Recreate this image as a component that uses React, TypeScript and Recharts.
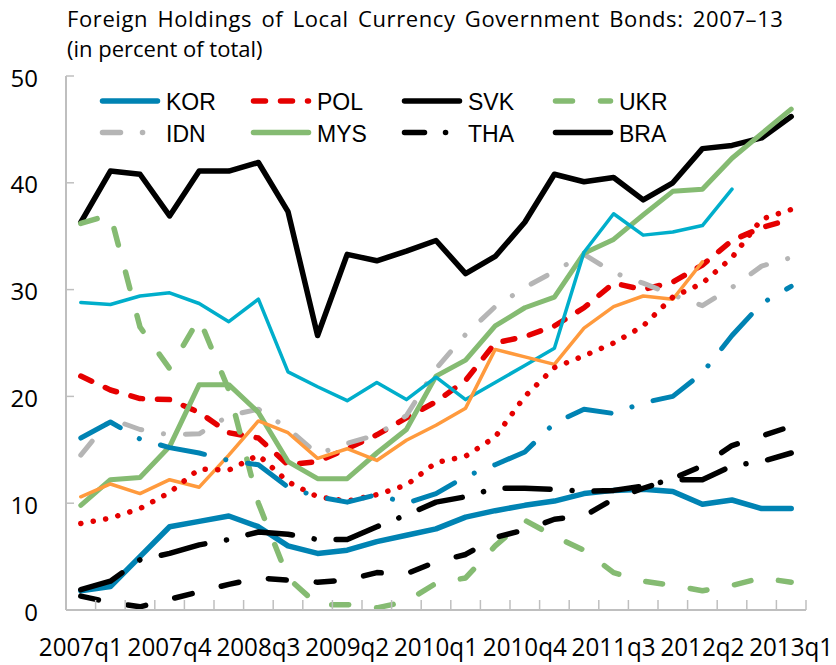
import { LineChart, Line, XAxis, YAxis, Legend } from 'recharts'

const quarters = [
  '2007q1', '2007q2', '2007q3', '2007q4', '2008q1', '2008q2', '2008q3', '2008q4',
  '2009q1', '2009q2', '2009q3', '2009q4', '2010q1', '2010q2', '2010q3', '2010q4',
  '2011q1', '2011q2', '2011q3', '2011q4', '2012q1', '2012q2', '2012q3', '2012q4', '2013q1',
]

const kor = [1.8, 2.2, 5.0, 7.8, 8.3, 8.8, 7.8, 6.0, 5.3, 5.6, 6.4, 7.0, 7.6, 8.7, 9.3, 9.8, 10.2, 10.9, 11.2, 11.3, 11.1, 9.9, 10.3, 9.5, 9.5]
const pol = [21.9, 20.6, 19.8, 19.7, 18.5, 16.6, 16.1, 13.6, 13.9, 15.1, 16.4, 18.0, 19.5, 21.5, 25.0, 25.6, 26.6, 28.3, 30.6, 30.0, 30.7, 32.3, 34.6, 35.8, 36.6]
const svk = [36.3, 41.1, 40.8, 36.9, 41.1, 41.1, 41.9, 37.3, 25.7, 33.3, 32.7, 33.6, 34.6, 31.5, 33.1, 36.3, 40.8, 40.1, 40.5, 38.4, 40.0, 43.2, 43.5, 44.2, 46.2]
const ukr = [36.2, 37.0, 26.5, 22.6, 27.3, 20.6, 10.0, 3.0, 0.5, 0.5, 0.2, 0.8, 2.5, 3.0, 6.0, 8.4, 6.9, 5.6, 3.5, 2.7, 2.3, 1.8, 2.3, 3.0, 2.6]
const idn = [14.5, 17.9, 16.9, 16.4, 16.5, 18.2, 18.8, 17.0, 14.6, 15.6, 16.4, 18.2, 22.6, 25.8, 28.4, 30.2, 31.7, 33.3, 31.6, 30.6, 29.5, 28.5, 30.2, 32.2, 33.0]
const mys = [9.8, 12.2, 12.4, 15.3, 21.1, 21.1, 18.5, 13.9, 12.3, 12.3, 14.7, 16.9, 21.9, 23.4, 26.6, 28.3, 29.3, 33.4, 34.7, 37.0, 39.2, 39.4, 42.3, 44.6, 46.9]
const tha = [1.9, 2.7, 4.7, 5.3, 6.1, 6.6, 7.3, 7.1, 6.6, 6.6, 7.8, 8.9, 10.1, 10.6, 11.4, 11.4, 11.3, 11.1, 11.2, 11.6, 12.2, 12.2, 13.5, 13.9, 14.7]
// series whose legend entries are cut off in the original
const series9 = [28.8, 28.6, 29.4, 29.7, 28.7, 27.0, 29.1, 22.3, 20.9, 19.6, 21.3, 19.7, 21.8, 19.7, 21.3, 22.9, 24.5, 33.5, 37.1, 35.1, 35.4, 36.0, 39.4]
const series10 = [10.6, 11.8, 10.9, 12.2, 11.5, 14.5, 17.7, 16.6, 14.2, 15.1, 14.0, 15.9, 17.3, 18.9, 24.4, 23.7, 23.0, 26.4, 28.4, 29.4, 29.1, 32.6]
const series11 = [8.1, 8.6, 9.5, 11.0, 13.2, 13.1, 14.5, 12.0, 10.6, 10.2, 10.8, 11.7, 13.8, 14.4, 16.2, 20.0, 22.7, 23.8, 25.0, 26.6, 29.3, 30.6, 33.0, 36.6, 37.5]
const series12 = [16.1, 17.6, 16.0, 15.2, 14.7, 14.0, 13.6, 11.5, 10.6, 10.1, 10.8, 10.0, 10.9, 12.5, 13.6, 14.8, 17.5, 18.8, 18.4, 19.4, 20.0, 22.2, 25.7, 28.7, 30.3]
const series13 = [1.3, 0.7, 0.3, 1.0, 1.7, 2.4, 3.0, 2.8, 2.6, 2.8, 3.5, 3.4, 4.5, 5.2, 6.8, 7.5, 8.5, 8.8, 10.4, 11.4, 12.3, 13.5, 15.4, 16.3, 17.2]

const yTicks = [0, 10, 20, 30, 40, 50]
const legendNames = ['KOR', 'POL', 'SVK', 'UKR', 'IDN', 'MYS', 'THA', 'BRA']

const W = 836
const H = 665
const PLOT = { left: 66, top: 76, right: 806, bottom: 610 }
const STEP = (PLOT.right - PLOT.left) / quarters.length
const AXIS_GRAY = '#BFBFBF'
const FONT = '"Open Sans", sans-serif'

const BLUE = '#0083B3'
const RED = '#E50000'
const GREEN = '#85BB72'
const GRAY = '#B5B5B5'
const CYAN = '#00AECB'
const ORANGE = '#FF9A3D'
const BLACK = '#000000'

const lines = [
  { key: 'KOR', values: kor, color: BLUE, width: 5.5 },
  { key: 'POL', values: pol, color: RED, width: 5.5, dash: '12 15' },
  { key: 'SVK', values: svk, color: BLACK, width: 5.5 },
  { key: 'UKR', values: ukr, color: GREEN, width: 5.5, dash: '17 28' },
  { key: 'IDN', values: idn, color: GRAY, width: 5, dash: '18 22 0.1 22' },
  { key: 'MYS', values: mys, color: GREEN, width: 5 },
  { key: 'THA', values: tha, color: BLACK, width: 5.5, dash: '45 22 0.1 22' },
  { key: 'series9', values: series9, color: CYAN, width: 3.5 },
  { key: 'series10', values: series10, color: ORANGE, width: 3.5 },
  { key: 'series11', values: series11, color: RED, width: 5.5, dash: '0.1 12.5' },
  { key: 'series12', values: series12, color: BLUE, width: 5, dash: '45 22 0.1 22' },
  { key: 'series13', values: series13, color: BLACK, width: 5.5, dash: '18 30' },
]

const legendStyle: Record<string, { color: string; dash?: string }> = {
  KOR: { color: BLUE },
  POL: { color: RED, dash: '12 15' },
  SVK: { color: BLACK },
  UKR: { color: GREEN, dash: '17 28' },
  IDN: { color: GRAY, dash: '18 22 0.1 22' },
  MYS: { color: GREEN },
  THA: { color: BLACK, dash: '20 21 0.1 21' },
  BRA: { color: BLACK },
}

const data = quarters.map((q, i) => {
  const row: Record<string, any> = { q }
  lines.forEach((l) => {
    row[l.key] = l.values[i]
  })
  return row
})

function XTick(props: any) {
  const { x, y, payload } = props
  const index = props.index ?? payload.index
  return (
    <g>
      <line x1={x + STEP / 2} x2={x + STEP / 2} y1={y} y2={y - 10} stroke={AXIS_GRAY} strokeWidth={1.5} />
      {index % 3 === 0 && (
        <text
          x={x}
          y={y + 46}
          textAnchor="middle"
          fontFamily={FONT}
          fontSize={25}
          fill="#000"
          textLength={84}
          lengthAdjust="spacingAndGlyphs"
        >
          {payload.value}
        </text>
      )}
    </g>
  )
}

function YTick(props: any) {
  const { x, y, payload } = props
  return (
    <g>
      <line x1={x} x2={x + 8} y1={y} y2={y} stroke={AXIS_GRAY} strokeWidth={1.5} />
      <text x={x - 28} y={y} dy={10.5} textAnchor="end" fontFamily={FONT} fontSize={24} fill="#000">
        {payload.value}
      </text>
    </g>
  )
}

function LegendBox() {
  return (
    <svg width={W} height={160} style={{ display: 'block' }}>
      {legendNames.map((name, i) => {
        const s = legendStyle[name]
        const x0 = 100 + (i % 4) * 151
        const y0 = 101 + Math.floor(i / 4) * 31.5
        return (
          <g key={name}>
            <line
              x1={x0 + 2.5}
              x2={x0 + 57.5}
              y1={y0}
              y2={y0}
              stroke={s.color}
              strokeWidth={5.5}
              strokeDasharray={s.dash}
              strokeLinecap="round"
            />
            <text x={x0 + 66} y={y0 + 9} fontFamily="'Liberation Sans', Arial, sans-serif" fontSize={23} fill="#000">
              {name}
            </text>
          </g>
        )
      })}
    </svg>
  )
}

export default function App() {
  return (
    <div style={{ position: 'absolute', left: 0, top: 0, width: W, height: H, background: '#fff' }}>
      <div
        style={{
          position: 'absolute',
          left: 67,
          top: 3,
          fontFamily: FONT,
          fontSize: 22,
          lineHeight: '30px',
          color: '#000',
          whiteSpace: 'nowrap',
          zIndex: 2,
        }}
      >
        <div style={{ letterSpacing: 0.6, wordSpacing: 3 }}>
          Foreign Holdings of Local Currency Government Bonds: 2007–13
        </div>
        <div>(in percent of total)</div>
      </div>
      <div style={{ position: 'absolute', left: 0, top: 0 }}>
        <LineChart
          width={W}
          height={H}
          data={data}
          margin={{ top: PLOT.top, right: W - PLOT.right, bottom: 0, left: 0 }}
        >
          <XAxis
            dataKey="q"
            interval={0}
            padding={{ left: STEP / 2, right: STEP / 2 }}
            height={H - PLOT.bottom}
            tickSize={0}
            tickMargin={0}
            tickLine={false}
            axisLine={{ stroke: AXIS_GRAY, strokeWidth: 2 }}
            tick={<XTick />}
          />
          <XAxis
            xAxisId="top"
            dataKey="q"
            orientation="top"
            height={0}
            tick={false}
            tickLine={false}
            axisLine={{ stroke: AXIS_GRAY, strokeWidth: 2 }}
          />
          <YAxis
            domain={[0, 50]}
            ticks={yTicks}
            width={PLOT.left}
            tickSize={0}
            tickMargin={0}
            tickLine={false}
            axisLine={{ stroke: AXIS_GRAY, strokeWidth: 2 }}
            tick={<YTick />}
          />
          <YAxis
            yAxisId="right"
            orientation="right"
            domain={[0, 50]}
            width={0}
            tick={false}
            tickLine={false}
            axisLine={{ stroke: AXIS_GRAY, strokeWidth: 2 }}
          />
          <Legend
            layout="vertical"
            align="center"
            verticalAlign="middle"
            wrapperStyle={{ left: 0, top: 0, width: W, height: 160 }}
            content={() => <LegendBox />}
          />
          {lines.map((l) => (
            <Line
              key={l.key}
              dataKey={l.key}
              stroke={l.color}
              strokeWidth={l.width}
              strokeDasharray={l.dash}
              strokeLinecap="round"
              strokeLinejoin="round"
              dot={false}
              activeDot={false}
              isAnimationActive={false}
            />
          ))}
        </LineChart>
      </div>
    </div>
  )
}
